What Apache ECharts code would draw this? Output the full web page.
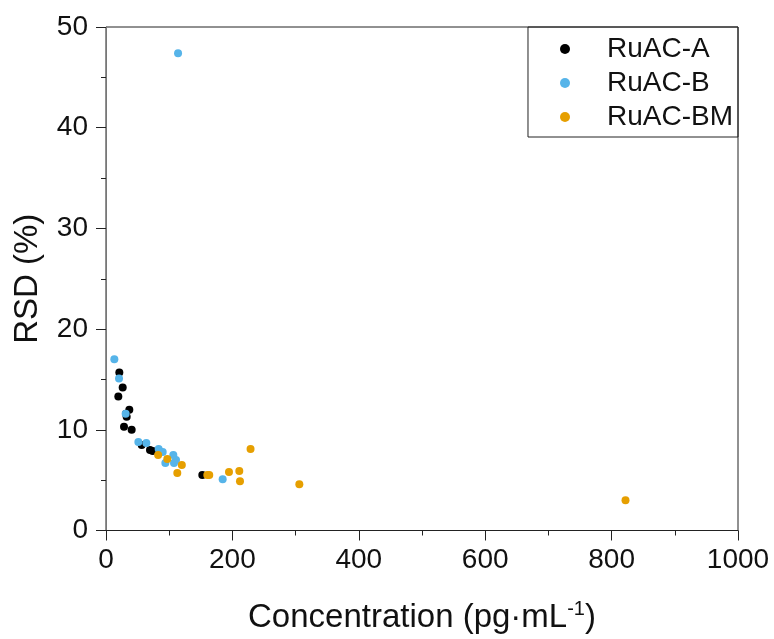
<!DOCTYPE html>
<html>
<head>
<meta charset="utf-8">
<script src="https://cdn.jsdelivr.net/npm/echarts@6/dist/echarts.min.js"></script>
<style>
  html, body { margin: 0; padding: 0; background: #fff; }
  #chart { width: 774px; height: 639px; }
</style>
</head>
<body>
<div id="chart"></div>
<script>
// values
const seriesNames = ['RuAC-A', 'RuAC-B', 'RuAC-BM'];
const colors = ['#000000', '#56B4E9', '#E69F00'];

const aConc = [21.1, 26.4, 19.5, 36.9, 31.6, 32.7, 28.5, 40.6, 56.5, 69.6, 73.9, 152.4];
const aRsd  = [15.7, 14.2, 13.3, 12.0, 11.6, 11.3, 10.3, 10.0, 8.5, 8.0, 7.9, 5.5];

const bConc = [13.2, 20.6, 31.1, 51.2, 63.8, 83.3, 89.7, 106.5, 93.9, 110.8, 107.6, 184.6, 114.0];
const bRsd  = [17.0, 15.1, 11.6, 8.8, 8.7, 8.1, 7.8, 7.5, 6.7, 7.0, 6.7, 5.1, 47.4];

const bmConc = [82.5, 97.0, 120.0, 112.8, 160.3, 163.4, 194.6, 210.9, 212.0, 228.7, 305.9, 822.0];
const bmRsd  = [7.5, 7.1, 6.5, 5.7, 5.5, 5.5, 5.8, 5.9, 4.9, 8.1, 4.6, 3.0];

const zip = (xs, ys) => xs.map((x, i) => [x, ys[i]]);
const allData = [zip(aConc, aRsd), zip(bConc, bRsd), zip(bmConc, bmRsd)];

const FONT = '"Liberation Sans", Arial, sans-serif';

const chart = echarts.init(document.getElementById('chart'));

chart.setOption({
  animation: false,
  textStyle: { fontFamily: FONT },
  grid: {
    left: 106, right: 36, top: 27, bottom: 103,
    show: true, borderColor: '#222', borderWidth: 1, backgroundColor: 'transparent'
  },
  legend: {
    data: seriesNames,
    orient: 'vertical',
    right: 36, top: 27,
    borderColor: '#222', borderWidth: 1, borderRadius: 0,
    padding: [8, 5, 6, 32],
    itemGap: 6,
    itemWidth: 10, itemHeight: 10,
    icon: 'circle',
    textStyle: { fontSize: 28, color: '#111', padding: [0, 0, 0, 32], fontFamily: FONT }
  },
  xAxis: {
    type: 'value',
    min: 0, max: 1000, interval: 200,
    name: 'Concentration (pg·mL{sup|-1})',
    nameLocation: 'middle',
    nameGap: 69,
    nameTextStyle: {
      fontSize: 33, color: '#111', fontFamily: FONT,
      rich: { sup: { fontSize: 20, color: '#111', padding: [0, 0, 16, 0], fontFamily: FONT } }
    },
    axisLine: { show: true, onZero: false, lineStyle: { color: '#222', width: 1 } },
    axisTick: { show: true, inside: false, length: 10, lineStyle: { color: '#222' } },
    minorTick: { show: true, splitNumber: 2, length: 5, lineStyle: { color: '#222' } },
    axisLabel: { fontSize: 28, color: '#111', margin: 16, fontFamily: FONT, formatter: v => String(v) },
    splitLine: { show: false }
  },
  yAxis: {
    type: 'value',
    min: 0, max: 50, interval: 10,
    name: 'RSD (%)',
    nameLocation: 'middle',
    nameGap: 62,
    nameTextStyle: { fontSize: 33, color: '#111', fontFamily: FONT },
    axisLine: { show: true, onZero: false, lineStyle: { color: '#777', width: 1 } },
    axisTick: { show: true, inside: false, length: 10, lineStyle: { color: '#222' } },
    minorTick: { show: true, splitNumber: 2, length: 5, lineStyle: { color: '#222' } },
    axisLabel: { fontSize: 28, color: '#111', margin: 18, fontFamily: FONT },
    splitLine: { show: false }
  },
  series: seriesNames.map((name, i) => ({
    name: name,
    type: 'scatter',
    data: allData[i],
    symbol: 'circle',
    symbolSize: 8,
    itemStyle: { color: colors[i], opacity: 1 },
    emphasis: { disabled: true }
  }))
});
</script>
</body>
</html>
